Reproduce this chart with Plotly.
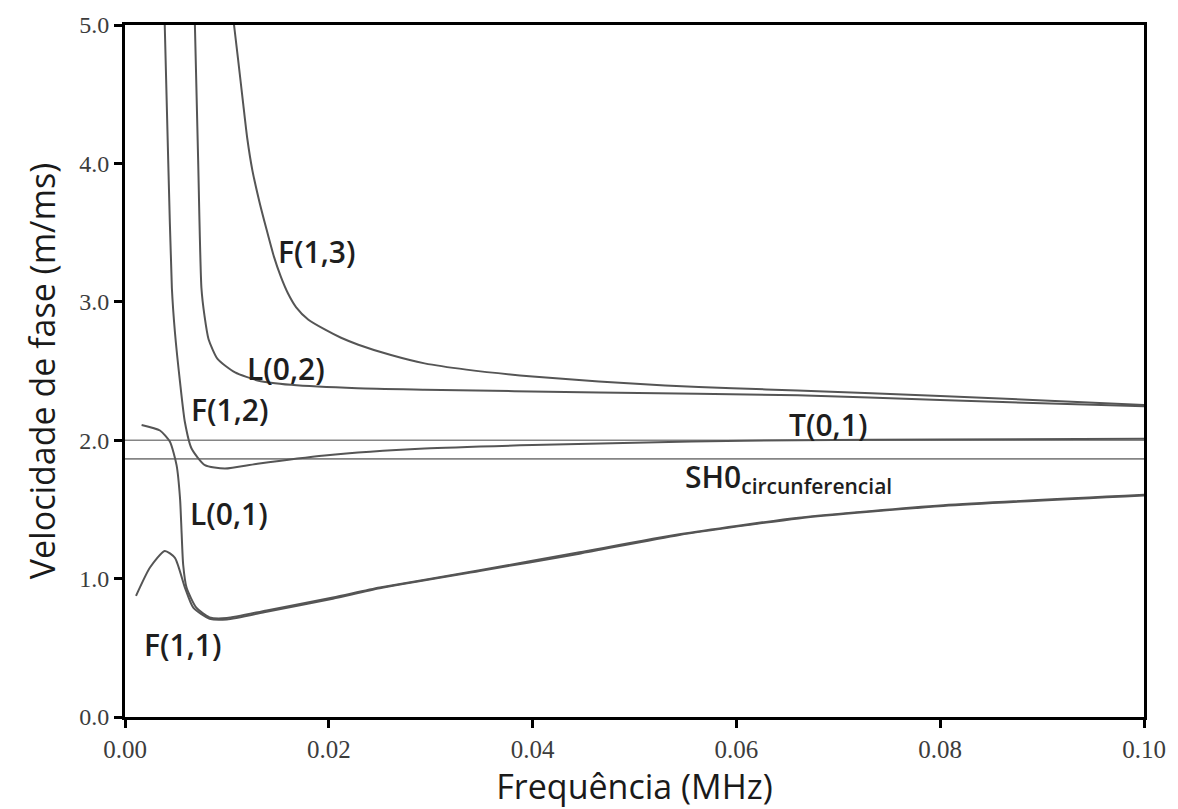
import plotly.graph_objects as go

# ---- data ----
f_F13 = [0.0107, 0.0111, 0.0116, 0.0120, 0.0125, 0.0132, 0.0139, 0.0146, 0.0153, 0.0160,
         0.0168, 0.0180, 0.0196, 0.0212, 0.0229, 0.0261, 0.0294, 0.0335, 0.040, 0.0465,
         0.053, 0.0596, 0.066, 0.080, 0.100]
v_F13 = [5.0, 4.75, 4.43, 4.18, 3.95, 3.72, 3.52, 3.33, 3.18, 3.06,
         2.96, 2.87, 2.80, 2.74, 2.69, 2.615, 2.555, 2.51, 2.46, 2.425,
         2.395, 2.375, 2.36, 2.32, 2.255]

f_L02 = [0.00686, 0.00718, 0.0075, 0.0078, 0.0082, 0.0091, 0.0108, 0.0131, 0.0163, 0.0228,
         0.0294, 0.0465, 0.066, 0.080, 0.100]
v_L02 = [5.0, 4.02, 3.1, 2.9, 2.73, 2.585, 2.49, 2.43, 2.40, 2.375,
         2.365, 2.345, 2.325, 2.29, 2.245]

f_F12 = [0.0039, 0.00424, 0.0046, 0.0049, 0.0054, 0.00588, 0.00653, 0.00784, 0.0098, 0.0130,
         0.0196, 0.0294, 0.040, 0.0556, 0.066, 0.080, 0.100]
v_F12 = [5.0, 4.02, 3.1, 2.78, 2.42, 2.13, 1.94, 1.82, 1.795, 1.83,
         1.89, 1.94, 1.965, 1.99, 2.0, 2.005, 2.01]

f_L01 = [0.00163, 0.00343, 0.0044, 0.00506, 0.0054, 0.00555, 0.00571, 0.00604, 0.0070, 0.0083,
         0.0100, 0.0139, 0.0204, 0.025, 0.0348, 0.0446, 0.0544, 0.0661, 0.0803, 0.100]
v_L01 = [2.11, 2.07, 1.99, 1.82, 1.58, 1.34, 1.10, 0.935, 0.79, 0.72,
         0.715, 0.77, 0.863, 0.935, 1.06, 1.19, 1.32, 1.44, 1.53, 1.605]

f_F11 = [0.00108, 0.00245, 0.0039, 0.0049, 0.00588, 0.0067, 0.0083, 0.0100, 0.0139, 0.0204,
         0.025, 0.0348, 0.0446, 0.0544, 0.0661, 0.0803, 0.100]
v_F11 = [0.875, 1.08, 1.20, 1.15, 0.935, 0.79, 0.71, 0.705, 0.76, 0.855,
         0.93, 1.055, 1.18, 1.315, 1.435, 1.525, 1.60]

f_flat = [0.0, 0.10]
v_T01 = [2.0, 2.0]
v_SH0 = [1.865, 1.865]

x_ticks = [0.00, 0.02, 0.04, 0.06, 0.08, 0.10]
x_ticklabels = ["0.00", "0.02", "0.04", "0.06", "0.08", "0.10"]
y_ticks = [0.0, 1.0, 2.0, 3.0, 4.0, 5.0]
y_ticklabels = ["0.0", "1.0", "2.0", "3.0", "4.0", "5.0"]

labels = ["F(1,3)", "L(0,2)", "F(1,2)", "L(0,1)", "F(1,1)", "T(0,1)"]
label_x = [0.0188, 0.0158, 0.0103, 0.0102, 0.00565, 0.0690]
label_y = [3.365, 2.52, 2.225, 1.47, 0.527, 2.113]

CURVE = "#555555"
FLAT = "#858585"

fig = go.Figure()
for name, xs, ys in [("T(0,1)", f_flat, v_T01), ("SH0 circunferencial", f_flat, v_SH0)]:
    fig.add_trace(go.Scatter(x=xs, y=ys, mode="lines", name=name,
                             line=dict(color=FLAT, width=1.6), hoverinfo="skip"))
for name, xs, ys in [("F(1,3)", f_F13, v_F13), ("L(0,2)", f_L02, v_L02),
                     ("F(1,2)", f_F12, v_F12), ("L(0,1)", f_L01, v_L01),
                     ("F(1,1)", f_F11, v_F11)]:
    fig.add_trace(go.Scatter(x=xs, y=ys, mode="lines", name=name,
                             line=dict(color=CURVE, width=2, shape="spline", smoothing=0.6)))

LABEL_FONT = dict(family="Open Sans, Noto Sans, sans-serif", size=30, color="#1e1e1e", weight=600)
for t, lx, ly in zip(labels, label_x, label_y):
    fig.add_annotation(x=lx, y=ly, text=t, showarrow=False, font=LABEL_FONT,
                       xanchor="center", yanchor="middle")
fig.add_annotation(x=0.0548, y=1.725, text="SH0<sub>circunferencial</sub>", showarrow=False,
                   font=LABEL_FONT, xanchor="left", yanchor="middle")

TITLE_FONT = dict(family="Open Sans, Noto Sans, sans-serif", size=34, color="#1a1a1a")
TICK_FONT_X = dict(family="Liberation Serif, serif", size=25, color="#3c3c3c")
TICK_FONT_Y = dict(family="Liberation Serif, serif", size=24, color="#3c3c3c")

fig.update_layout(
    width=1178, height=809,
    margin=dict(l=125, r=32, t=20, b=92),
    paper_bgcolor="white", plot_bgcolor="white",
    showlegend=False,
    xaxis=dict(range=[0, 0.10], tickvals=x_ticks, ticktext=x_ticklabels,
               showgrid=False, zeroline=False, showline=True, linecolor="black",
               linewidth=3, mirror=True, ticks="outside", ticklen=8, tickwidth=3,
               tickcolor="black", tickfont=TICK_FONT_X,
               title=dict(text="Frequência (MHz)", font=TITLE_FONT, standoff=0)),
    yaxis=dict(range=[0, 5.0], tickvals=y_ticks, ticktext=y_ticklabels,
               showgrid=False, zeroline=False, showline=True, linecolor="black",
               linewidth=3, mirror=True, ticks="outside", ticklen=8, tickwidth=3,
               tickcolor="black", tickfont=TICK_FONT_Y,
               title=dict(text="Velocidade de fase (m/ms)", font=TITLE_FONT, standoff=14)),
)

fig.write_html("out.html", config={"displayModeBar": False},
               post_script="document.body.style.margin='0px';document.body.style.overflow='hidden';")
